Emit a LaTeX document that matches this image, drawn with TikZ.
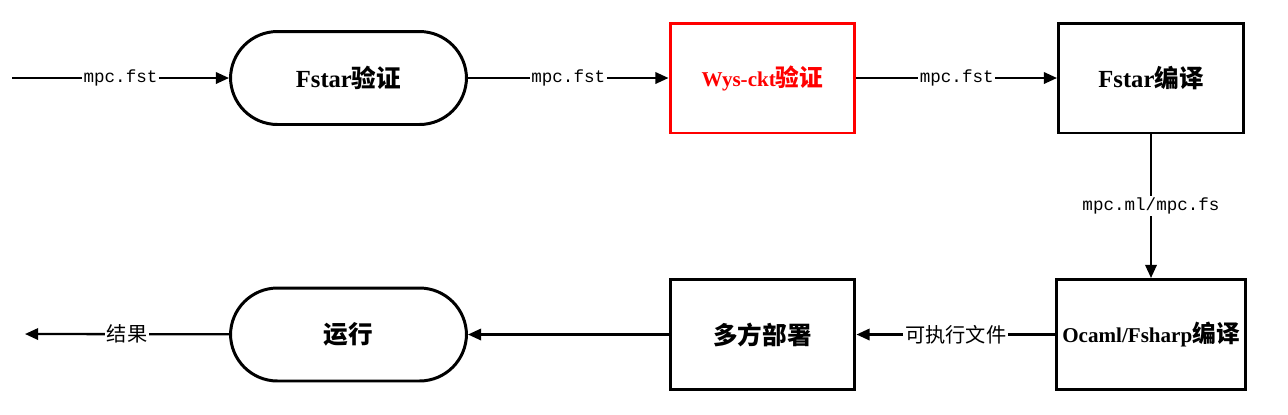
\documentclass[tikz,border=0pt]{standalone}
\usepackage{fontspec}
\setmainfont{Liberation Serif}
\setmonofont{Liberation Mono}
\newfontfamily\cjk{Noto Sans CJK SC}
\usetikzlibrary{arrows.meta}
\tikzset{
    stadium/.style={draw=black, line width=1.7pt, rounded corners=0.94cm,
        minimum width=4.72cm, minimum height=1.86cm, font=\fontsize{14}{16}\selectfont\bfseries},
    procbox/.style={draw=black, line width=1.7pt,
        minimum width=3.7cm, minimum height=2.2cm, font=\fontsize{14}{16}\selectfont\bfseries},
    flow/.style={line width=1.3pt, -{Triangle[length=7.5pt, width=6.5pt]}},
    lbl/.style={fill=white, inner sep=1pt, font=\fontsize{10}{12}\selectfont\ttfamily},
    lblcn/.style={fill=white, inner sep=1pt, font=\fontsize{11.5}{13}\selectfont\cjk}
}
\begin{document}
\begin{tikzpicture}[x=0.02cm, y=-0.02cm]
        \useasboundingbox (0, 0) rectangle (1288, 414);
        \coordinate (in) at (12, 78);
        \node[stadium] (fverify) at (348.5, 78) {Fstar{\cjk 验证}};
        \node[procbox, draw=red, text=red, font=\fontsize{12}{14}\selectfont\bfseries] (wverify) at (762.5, 78) {Wys-ckt{\cjk\fontsize{13.5}{16}\selectfont 验证}};
        \node[procbox] (fcompile) at (1151, 78) {Fstar{\cjk 编译}};
        \node[procbox, font=\fontsize{12}{14}\selectfont\bfseries] (ocompile) at (1151, 334.5) {Ocaml/Fsharp{\cjk\fontsize{13.5}{16}\selectfont 编译}};
        \node[procbox] (deploy) at (762.5, 334.5) {\cjk 多方部署};
        \node[stadium] (run) at (348.5, 334.5) {\cjk 运行};
        \coordinate (out) at (25, 334);
        \draw[flow] (in) -- node[lbl] {mpc.fst} (fverify);
        \draw[flow] (fverify) -- node[lbl] {mpc.fst} (wverify);
        \draw[flow] (wverify) -- node[lbl] {mpc.fst} (fcompile);
        \draw[flow] (fcompile) -- node[lbl] {mpc.ml/mpc.fs} (ocompile);
        \draw[flow] (ocompile) -- node[lblcn] {可执行文件} (deploy);
        \draw[flow] (deploy) -- (run);
        \draw[flow] (run) -- node[lblcn] {结果} (out);
    \end{tikzpicture}
\end{document}
